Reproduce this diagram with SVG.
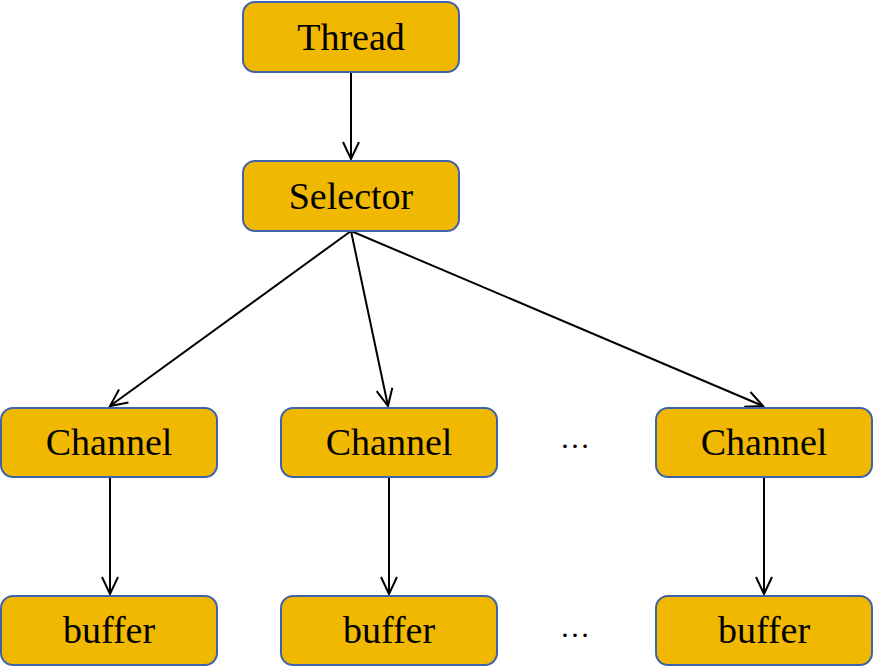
<svg xmlns="http://www.w3.org/2000/svg" width="874" height="669" viewBox="0 0 874 669">
<style>
.n rect{fill:#F0B800;stroke:#3E63A8;stroke-width:2}
.n text,.t{font-family:"Liberation Serif","Times New Roman",serif;font-size:38px;fill:#000;text-anchor:middle}
.c line{stroke:#000;stroke-width:2;fill:none}
</style>
<defs>
<marker id="a" viewBox="0 0 22 22" refX="20" refY="11" markerWidth="22" markerHeight="22" markerUnits="userSpaceOnUse" orient="auto">
<path d="M3,3 L20,11 L3,19" fill="none" stroke="#000" stroke-width="2"/>
</marker>
</defs>
<g class="c">
<line x1="351" y1="72" x2="351" y2="159" marker-end="url(#a)"/>
<line x1="351" y1="231" x2="110" y2="406" marker-end="url(#a)"/>
<line x1="351" y1="231" x2="388" y2="406" marker-end="url(#a)"/>
<line x1="351" y1="231" x2="763" y2="406" marker-end="url(#a)"/>
<line x1="110" y1="477" x2="110" y2="594" marker-end="url(#a)"/>
<line x1="389" y1="477" x2="389" y2="594" marker-end="url(#a)"/>
<line x1="764" y1="477" x2="764" y2="594" marker-end="url(#a)"/>
</g>
<g id="thread" class="n"><rect x="243" y="2" width="216" height="70" rx="12"/><text x="351" y="50">Thread</text></g>
<g id="selector" class="n"><rect x="243" y="161" width="216" height="70" rx="12"/><text x="351" y="209">Selector</text></g>
<g id="channel1" class="n"><rect x="1" y="408" width="216" height="69" rx="12"/><text x="109" y="455">Channel</text></g>
<g id="channel2" class="n"><rect x="281" y="408" width="216" height="69" rx="12"/><text x="389" y="455">Channel</text></g>
<g id="channel3" class="n"><rect x="656" y="408" width="216" height="69" rx="12"/><text x="764" y="455">Channel</text></g>
<g id="buffer1" class="n"><rect x="1" y="596" width="216" height="69" rx="12"/><text x="109" y="643">buffer</text></g>
<g id="buffer2" class="n"><rect x="281" y="596" width="216" height="69" rx="12"/><text x="389" y="643">buffer</text></g>
<g id="buffer3" class="n"><rect x="656" y="596" width="216" height="69" rx="12"/><text x="764" y="643">buffer</text></g>
<text class="t" x="575" y="448" style="font-size:30px">…</text>
<text class="t" x="575" y="637" style="font-size:30px">…</text>
</svg>
